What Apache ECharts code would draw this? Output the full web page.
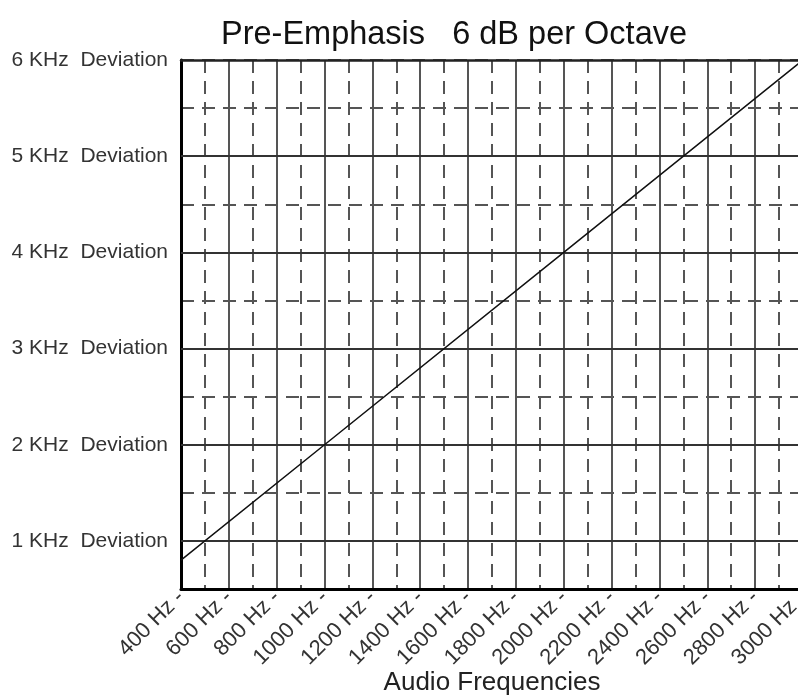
<!DOCTYPE html>
<html>
<head>
<meta charset="utf-8">
<script src="https://cdn.jsdelivr.net/npm/echarts@6/dist/echarts.min.js"></script>
<style>
html,body{margin:0;padding:0;background:#fff;}
#chart{width:798px;height:695px;}
</style>
</head>
<body>
<div id="chart"></div>
<script>
// ---- data ----
const titleText = 'Pre-Emphasis   6 dB per Octave';
const xAxisName = 'Audio Frequencies';
const freqTicks = [400, 600, 800, 1000, 1200, 1400, 1600, 1800, 2000, 2200, 2400, 2600, 2800, 3000];
const deviationTicks = [1, 2, 3, 4, 5, 6];
const curveFreq = [400, 1000, 2000, 3000];
const curveDev = [0.8, 2.0, 4.0, 6.0];

const FONT = '"Liberation Sans", Arial, sans-serif';
const chart = echarts.init(document.getElementById('chart'));

const option = {
  animation: false,
  backgroundColor: '#fff',
  title: {
    text: titleText,
    left: 216,
    top: 14,
    textStyle: { fontFamily: FONT, fontSize: 32.5, fontWeight: 'normal', color: '#111' }
  },
  grid: { left: 181, top: 60, bottom: 106, width: 622, containLabel: false, outerBoundsMode: 'none' },
  xAxis: [{
    type: 'value',
    min: freqTicks[0],
    max: freqTicks[freqTicks.length - 1],
    interval: 200,
    name: xAxisName,
    nameLocation: 'middle',
    nameGap: 81,
    nameMoveOverlap: false,
    nameTextStyle: { fontFamily: FONT, fontSize: 26, color: '#222' },
    axisLine: { show: true, onZero: false, lineStyle: { color: '#000', width: 3 } },
    axisTick: { show: false },
    axisLabel: {
      rotate: 45,
      margin: 5,
      fontFamily: FONT, fontSize: 22, color: '#333',
      showMaxLabel: true,
      formatter: v => v + ' Hz -'
    },
    splitLine: { show: true, lineStyle: { color: '#555', width: 2 } },
    minorTick: { show: false, splitNumber: 2 },
    minorSplitLine: { show: true, lineStyle: { color: '#555', width: 2, type: [13, 8] } }
  }, {
    type: 'value',
    position: 'top',
    min: freqTicks[0],
    max: freqTicks[freqTicks.length - 1],
    interval: 200,
    axisLine: { show: true, onZero: false, lineStyle: { color: '#222', width: 2.5 } },
    axisTick: { show: false },
    axisLabel: { show: false },
    splitLine: { show: false }
  }],
  yAxis: {
    type: 'value',
    min: 0.5,
    max: deviationTicks[deviationTicks.length - 1],
    interval: 0.5,
    axisLine: { show: true, onZero: false, lineStyle: { color: '#000', width: 3 } },
    axisTick: { show: false },
    axisLabel: {
      margin: 13,
      fontFamily: FONT, fontSize: 21, color: '#333',
      formatter: v => (deviationTicks.indexOf(v) >= 0 ? v + ' KHz  Deviation' : '')
    },
    splitLine: { show: true, lineStyle: { color: '#555', width: 2, type: [13, 8] } }
  },
  series: [{
    type: 'line',
    data: curveFreq.map((f, i) => [f, curveDev[i]]),
    symbol: 'none',
    lineStyle: { color: '#111', width: 1.5 },
    z: 5,
    markLine: {
      silent: true,
      symbol: 'none',
      label: { show: false },
      lineStyle: { color: '#333', width: 2, type: 'solid' },
      data: deviationTicks.slice(0, -1).map(v => ({ yAxis: v }))
    }
  }]
};
chart.setOption(option);
</script>
</body>
</html>
